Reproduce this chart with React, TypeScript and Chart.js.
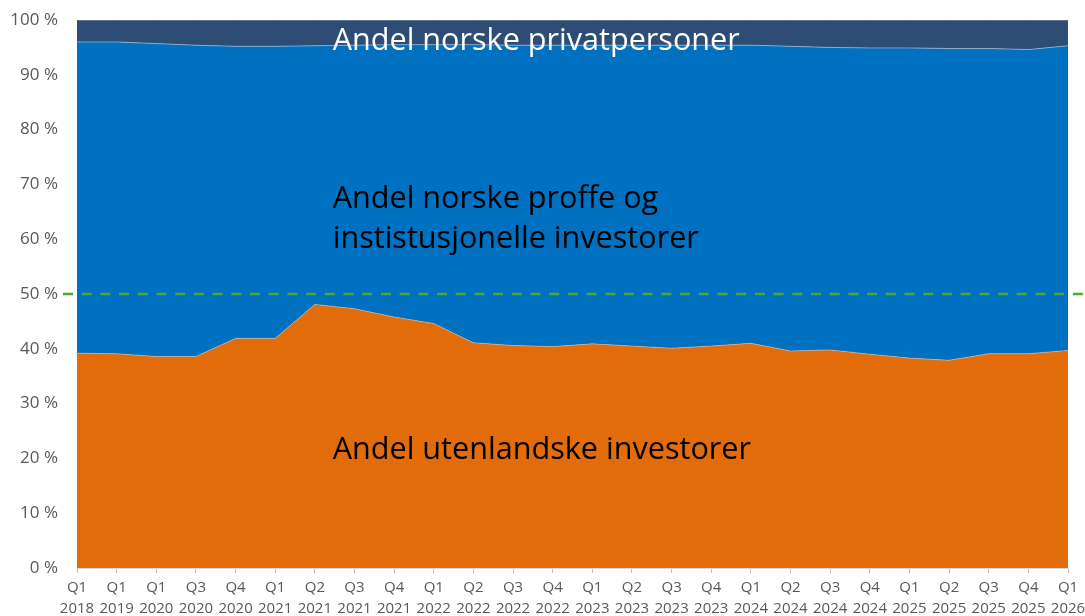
import { useEffect, useRef } from 'react';
import { Chart, registerables } from 'chart.js';

Chart.register(...registerables);

const quarters = ['Q1', 'Q1', 'Q1', 'Q3', 'Q4', 'Q1', 'Q2', 'Q3', 'Q4', 'Q1', 'Q2', 'Q3', 'Q4', 'Q1', 'Q2', 'Q3', 'Q4', 'Q1', 'Q2', 'Q3', 'Q4', 'Q1', 'Q2', 'Q3', 'Q4', 'Q1'];
const years = ['2018', '2019', '2020', '2020', '2020', '2021', '2021', '2021', '2021', '2022', '2022', '2022', '2022', '2023', '2023', '2023', '2023', '2024', '2024', '2024', '2024', '2025', '2025', '2025', '2025', '2026'];

// Andel utenlandske investorer (%)
const utenlandske = [39.2, 39.1, 38.6, 38.6, 41.9, 41.9, 48.1, 47.3, 45.8, 44.6, 41.1, 40.6, 40.4, 40.9, 40.5, 40.1, 40.5, 41.0, 39.6, 39.8, 39.0, 38.3, 37.9, 39.1, 39.1, 39.7];
// Andel norske proffe og institusjonelle investorer (%)
const proffe = [56.8, 56.9, 57.1, 56.8, 53.3, 53.3, 47.2, 48.1, 49.7, 50.9, 54.4, 54.8, 55.0, 54.5, 54.9, 55.3, 54.9, 54.4, 55.6, 55.2, 55.9, 56.6, 56.9, 55.7, 55.5, 55.6];
// Andel norske privatpersoner (%)
const privat = [4.0, 4.0, 4.3, 4.6, 4.8, 4.8, 4.7, 4.6, 4.5, 4.5, 4.5, 4.6, 4.6, 4.6, 4.6, 4.6, 4.6, 4.6, 4.8, 5.0, 5.1, 5.1, 5.2, 5.2, 5.4, 4.7];

const threshold = 50;

const labelPrivat = 'Andel norske privatpersoner';
const labelProffe = ['Andel norske proffe og', 'instistusjonelle investorer'];
const labelUtenlandske = 'Andel utenlandske investorer';

const FONT = '"Open Sans", "Noto Sans", sans-serif';

export default function App() {
  const ref = useRef<HTMLCanvasElement | null>(null);

  useEffect(() => {
    document.body.style.margin = '0';
    const canvas = ref.current;
    if (!canvas) return;

    const overlay = {
      id: 'overlay',
      afterDatasetsDraw(chart: any) {
        const { ctx, chartArea, scales } = chart;
        const x = scales.x;
        const y = scales.y;
        ctx.save();
        // 50 % dashed line
        const yy = y.getPixelForValue(threshold);
        ctx.strokeStyle = '#4EA72E';
        ctx.lineWidth = 2.6;
        ctx.setLineDash([10, 8.7]);
        ctx.beginPath();
        ctx.moveTo(chartArea.left - 14, yy);
        ctx.lineTo(chart.width, yy);
        ctx.stroke();
        ctx.setLineDash([]);

        // area labels
        const tx = x.getPixelForValue(6.45);
        ctx.font = `30.6px ${FONT}`;
        ctx.textBaseline = 'middle';
        ctx.textAlign = 'left';
        ctx.fillStyle = '#FFFFFF';
        ctx.fillText(labelPrivat, tx, y.getPixelForValue(96.2));
        ctx.fillStyle = '#000000';
        ctx.fillText(labelProffe[0], tx, y.getPixelForValue(67.3));
        ctx.fillText(labelProffe[1], tx, y.getPixelForValue(60.0));
        ctx.fillText(labelUtenlandske, tx, y.getPixelForValue(21.5));
        ctx.restore();
      },
    };

    const labels = quarters.map((q, i) => [q, years[i]]);

    const chart = new Chart(canvas, {
      type: 'line',
      data: {
        labels,
        datasets: [
          {
            label: 'Andel utenlandske investorer',
            data: utenlandske,
            backgroundColor: '#E36C0A',
            borderColor: 'rgba(190,190,190,0.6)',
            borderWidth: 1,
            fill: 'origin',
            pointRadius: 0,
            tension: 0,
          },
          {
            label: 'Andel norske proffe og institusjonelle investorer',
            data: proffe,
            backgroundColor: '#0070C0',
            borderColor: 'rgba(170,185,205,0.7)',
            borderWidth: 1,
            fill: '-1',
            pointRadius: 0,
            tension: 0,
          },
          {
            label: 'Andel norske privatpersoner',
            data: privat,
            backgroundColor: '#2D4D75',
            borderColor: 'rgba(170,170,170,0.8)',
            borderWidth: 1,
            fill: '-1',
            pointRadius: 0,
            tension: 0,
          },
        ],
      },
      options: {
        responsive: false,
        animation: false,
        layout: { padding: { top: 20, right: 17, left: 0, bottom: 0 } },
        plugins: {
          legend: { display: false },
          tooltip: { enabled: false },
        },
        scales: {
          x: {
            stacked: true,
            offset: false,
            grid: {
              display: true,
              drawOnChartArea: false,
              drawTicks: true,
              tickLength: 5,
              color: '#BFBFBF',
            },
            border: { display: true, color: '#D9D9D9' },
            ticks: {
              color: '#595959',
              font: { family: FONT, size: 15, lineHeight: 1.4 },
              padding: 4,
              maxRotation: 0,
              autoSkip: false,
            },
            afterFit(scale: any) {
              scale.height = 48;
              scale.paddingRight = 0;
              scale.paddingLeft = 0;
            },
          },
          y: {
            stacked: true,
            min: 0,
            max: 100,
            grid: { display: false, drawTicks: true, tickLength: 19 },
            border: { display: true, color: '#D9D9D9' },
            ticks: {
              stepSize: 10,
              color: '#595959',
              font: { family: FONT, size: 17 },
              padding: 0,
              callback: (v: any) => `${v} %`,
            },
            afterFit(scale: any) {
              scale.width = 77;
            },
          },
        },
      },
      plugins: [overlay],
    });

    return () => chart.destroy();
  }, []);

  return (
    <div style={{ width: 1085, height: 616 }}>
      <canvas ref={ref} width={1085} height={616} />
    </div>
  );
}
